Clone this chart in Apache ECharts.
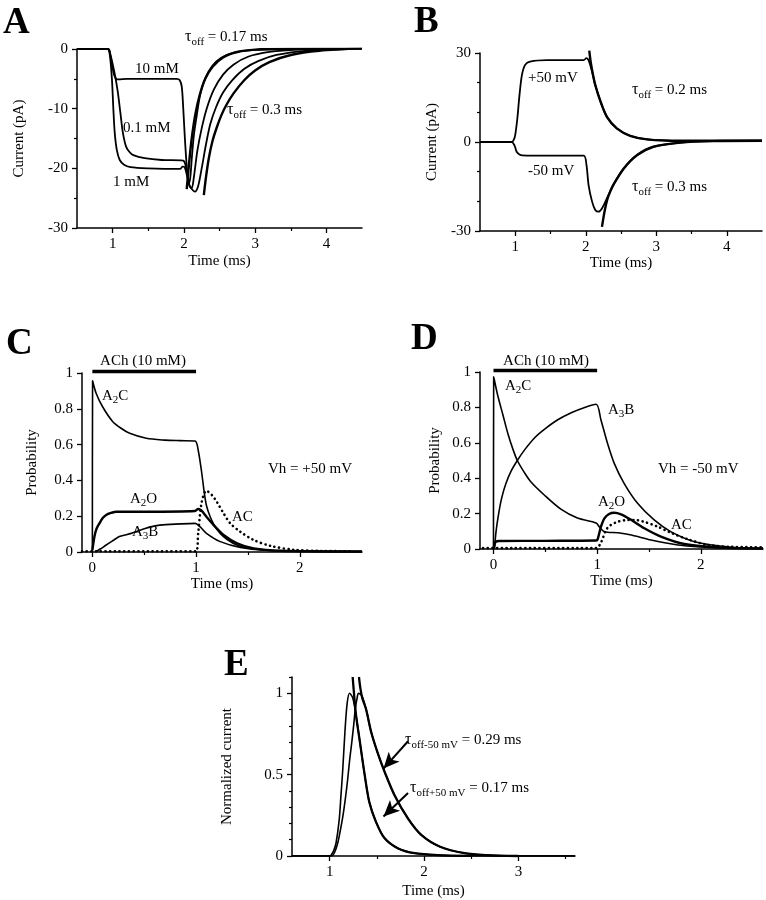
<!DOCTYPE html>
<html><head><meta charset="utf-8">
<script src="https://cdn.jsdelivr.net/npm/echarts@6/dist/echarts.min.js"></script>
<style>html,body{margin:0;padding:0;background:#fff}#c{width:766px;height:900px}</style>
</head><body><div id="c"></div>
<script>
// ---------- Panel A data (time ms, current pA) ----------
const A_10mM = [[0.5,0],[0.93,0],[0.96,-0.6],[0.98,-1.8],[1.0,-3.2],[1.02,-4.3],[1.05,-5.0],[1.08,-5.1],[1.2,-5.0],[1.5,-5.0],[1.9,-5.0],[1.94,-5.2],[1.97,-6.3],[1.99,-9.7],[2.01,-14.1],[2.03,-18],[2.05,-21],[2.07,-22.5],[2.09,-21.5],[2.11,-18.5],[2.14,-14.5],[2.18,-11.2],[2.23,-7.6],[2.3,-4.9],[2.4,-2.8],[2.52,-1.5],[2.7,-0.6],[2.95,-0.2],[3.3,0],[4.5,0.1]];
const A_01mM = [[0.5,0],[0.94,0],[0.97,-1],[1.0,-2.5],[1.03,-4.2],[1.05,-5.5],[1.075,-7.4],[1.11,-10.8],[1.145,-14.1],[1.19,-16.4],[1.24,-17.3],[1.29,-17.8],[1.45,-18.3],[1.69,-18.6],[1.99,-18.7],[2.02,-19.3],[2.05,-21],[2.08,-23],[2.11,-23.3],[2.14,-21.5],[2.19,-17],[2.25,-13.3],[2.32,-10],[2.42,-6.8],[2.55,-4.3],[2.7,-2.6],[2.9,-1.3],[3.2,-0.5],[3.6,-0.1],[4.5,0.1]];
const A_1mM = [[0.5,0],[0.93,0],[0.96,-1],[0.99,-5],[1.01,-10],[1.03,-14.1],[1.06,-17],[1.1,-18.6],[1.16,-19.4],[1.25,-19.8],[1.5,-20],[1.95,-20.1],[1.98,-19.7],[2.01,-19.8],[2.04,-21],[2.07,-22.6],[2.1,-23.3],[2.155,-23.9],[2.2,-23],[2.25,-20],[2.31,-16],[2.37,-12.6],[2.45,-9.8],[2.55,-7.3],[2.68,-5.2],[2.85,-3.3],[3.05,-2],[3.3,-1],[3.7,-0.3],[4.2,0],[4.5,0.1]];
const A_fit017 = [[2.04,-23.5],[2.07,-19.5],[2.11,-15],[2.16,-11],[2.22,-7.8],[2.3,-5],[2.4,-3],[2.55,-1.4],[2.75,-0.5],[3.0,-0.1],[3.5,0.05],[4.5,0.1]];
const A_fit03 = [[2.28,-24.5],[2.31,-21.5],[2.35,-18.3],[2.4,-15.5],[2.46,-13.2],[2.53,-11],[2.6,-9.3],[2.7,-7.4],[2.85,-5.2],[3.0,-3.6],[3.2,-2.2],[3.5,-1],[3.9,-0.3],[4.5,0.1]];
const A_xTicks = [1,2,3,4], A_xMinor = [1.5,2.5,3.5];
const A_yTicks = [-30,-20,-10,0], A_yMinor = [-25,-15,-5];

// ---------- Panel B data ----------
const B_p50 = [[0.5,0],[0.95,0],[0.98,0.8],[1.0,2.4],[1.03,8],[1.06,15.8],[1.095,22.6],[1.14,26],[1.21,27.1],[1.45,27.6],[1.97,27.6],[2.01,28.3],[2.04,27.6],[2.09,23.7],[2.135,19.2],[2.21,13.6],[2.3,8.5],[2.44,4.6],[2.63,2.1],[2.87,0.9],[3.34,0.4],[4.5,0.4]];
const B_p50fit = [[2.05,30.8],[2.07,27],[2.1,23],[2.135,19.2],[2.21,13.6],[2.3,8.5],[2.44,4.6],[2.63,2.1],[2.87,0.9],[3.34,0.4],[4.5,0.4]];
const B_m50 = [[0.5,0],[0.95,0],[0.99,-1.2],[1.02,-3.3],[1.06,-4.2],[1.1,-4.5],[1.5,-4.6],[1.97,-4.6],[2.01,-7.7],[2.04,-14.5],[2.09,-20.1],[2.135,-22.9],[2.18,-23.5],[2.23,-22.4],[2.3,-19],[2.39,-14.5],[2.54,-8.9],[2.73,-4.4],[2.96,-1.6],[3.34,-0.2],[3.8,0.3],[4.5,0.4]];
const B_m50fit = [[2.23,-28.6],[2.27,-23],[2.31,-19],[2.36,-16],[2.39,-14.5],[2.54,-8.9],[2.73,-4.4],[2.96,-1.6],[3.34,-0.2],[3.8,0.3],[4.5,0.4]];
const B_xTicks = [1,2,3,4], B_xMinor = [1.5,2.5,3.5];
const B_yTicks = [-30,0,30], B_yMinor = [-20,-10,10,20];

// ---------- Panel C data (probability) ----------
const C_A2C = [[0,0],[0.002,0.957],[0.036,0.887],[0.1,0.81],[0.197,0.728],[0.28,0.69],[0.36,0.663],[0.52,0.635],[0.7,0.625],[0.845,0.622],[0.99,0.62],[1.02,0.57],[1.055,0.44],[1.08,0.328],[1.1,0.26],[1.136,0.197],[1.18,0.145],[1.233,0.104],[1.3,0.07],[1.395,0.039],[1.5,0.022],[1.65,0.011],[1.9,0.005],[2.6,0.003]];
const C_A2O = [[0,0.01],[0.02,0.086],[0.04,0.13],[0.068,0.16],[0.1,0.19],[0.133,0.207],[0.18,0.218],[0.23,0.225],[0.52,0.225],[0.99,0.229],[1.02,0.24],[1.05,0.232],[1.1,0.197],[1.17,0.15],[1.265,0.095],[1.395,0.049],[1.556,0.02],[1.815,0.007],[2.6,0.003]];
const C_A3B = [[0.03,0],[0.08,0.018],[0.133,0.039],[0.2,0.064],[0.26,0.086],[0.375,0.104],[0.5,0.13],[0.65,0.15],[0.85,0.157],[0.99,0.16],[1.04,0.14],[1.1,0.104],[1.233,0.058],[1.427,0.026],[1.7,0.008],[2.6,0.002]];
const C_AC = [[-0.1,0.004],[1.0,0.004],[1.02,0.104],[1.055,0.28],[1.1,0.342],[1.15,0.32],[1.2,0.28],[1.265,0.216],[1.33,0.16],[1.427,0.113],[1.556,0.067],[1.72,0.034],[1.95,0.012],[2.2,0.006],[2.5,0.004]];
const ACh_bar = [[0,1.008],[1,1.008]];
const CD_xTicks = [0,1,2], CD_xMinor = [0.5,1.5];
const CD_yTicks = [0,0.2,0.4,0.6,0.8,1];

// ---------- Panel D data ----------
const D_A2C = [[0,0],[0.002,0.973],[0.04,0.87],[0.09,0.76],[0.14,0.65],[0.19,0.56],[0.23,0.5],[0.3,0.43],[0.36,0.38],[0.49,0.305],[0.65,0.225],[0.81,0.175],[0.99,0.147],[1.02,0.126],[1.07,0.098],[1.2,0.092],[1.33,0.079],[1.52,0.051],[1.78,0.023],[2.2,0.006],[2.6,0.003]];
const D_A3B = [[0.01,0],[0.025,0.1],[0.05,0.2],[0.08,0.29],[0.12,0.37],[0.17,0.44],[0.23,0.5],[0.3,0.56],[0.4,0.63],[0.5,0.68],[0.62,0.73],[0.75,0.77],[0.88,0.8],[0.99,0.818],[1.037,0.729],[1.1,0.597],[1.165,0.484],[1.26,0.371],[1.39,0.258],[1.55,0.164],[1.71,0.098],[1.94,0.041],[2.3,0.01],[2.6,0.004]];
const D_A2O = [[0,0],[0.01,0.025],[0.022,0.041],[0.05,0.045],[0.5,0.046],[0.99,0.048],[1.005,0.055],[1.037,0.126],[1.07,0.173],[1.115,0.198],[1.165,0.205],[1.23,0.196],[1.33,0.164],[1.455,0.117],[1.615,0.07],[1.84,0.028],[2.2,0.008],[2.6,0.003]];
const D_AC = [[-0.1,0.005],[0.99,0.005],[1.04,0.04],[1.085,0.107],[1.13,0.135],[1.2,0.154],[1.28,0.163],[1.36,0.164],[1.45,0.154],[1.585,0.126],[1.71,0.092],[1.875,0.055],[2.07,0.023],[2.3,0.012],[2.6,0.01]];

// ---------- Panel E data (normalized current) ----------
const E_p50 = [[0.6,0],[1.0,0],[1.014,0.005],[1.04,0.03],[1.067,0.08],[1.1,0.22],[1.12,0.38],[1.138,0.53],[1.163,0.78],[1.185,0.94],[1.21,1.0],[1.245,0.97],[1.28,0.86],[1.32,0.7],[1.37,0.5],[1.42,0.33],[1.49,0.21],[1.58,0.11],[1.72,0.048],[1.9,0.017],[2.15,0.005],[2.5,0.001],[3.6,0]];
const E_m50 = [[0.6,0],[1.02,0],[1.05,0.02],[1.085,0.08],[1.11,0.15],[1.138,0.24],[1.165,0.35],[1.19,0.47],[1.213,0.6],[1.234,0.7],[1.255,0.81],[1.27,0.9],[1.29,0.97],[1.305,1.0],[1.34,0.985],[1.386,0.9],[1.44,0.76],[1.51,0.63],[1.58,0.52],[1.69,0.37],[1.83,0.23],[1.97,0.13],[2.17,0.057],[2.43,0.017],[2.67,0.005],[3.0,0],[3.6,0]];
const E_fitP = [[1.243,1.1],[1.26,0.98],[1.28,0.86],[1.32,0.7],[1.37,0.5],[1.42,0.33],[1.49,0.21],[1.58,0.11],[1.72,0.048],[1.9,0.017],[2.15,0.005],[2.5,0.001]];
const E_fitM = [[1.31,1.1],[1.325,1.03],[1.345,0.97],[1.386,0.9],[1.44,0.76],[1.51,0.63],[1.58,0.52],[1.69,0.37],[1.83,0.23],[1.97,0.13],[2.17,0.057],[2.43,0.017],[2.67,0.005],[3.0,0]];
const E_arrows = [[[1.83,0.705],[1.57,0.537]],[[1.83,0.387],[1.57,0.243]]];
const E_xTicks = [1,2,3], E_xMinor = [1.5,2.5,3.5];
const E_yTicks = [0,0.5,1], E_yMinor = [0.1,0.2,0.3,0.4,0.6,0.7,0.8,0.9,1.1];

// ---------- rendering ----------
const FONT = '"Liberation Serif", "Times New Roman", serif';
const FS = 15;
const grids = [
  {left:77, top:49, width:285, height:179},
  {left:480, top:53, width:282, height:178},
  {left:82, top:373, width:280, height:179},
  {left:480, top:372, width:283, height:177},
  {left:292, top:677, width:283, height:179}
];
const xAxes = [], yAxes = [];
function axes(g, xmin, xmax, xt, xm, xname, xgap, ymin, ymax, yt, ym, yname, ygap) {
  const line = {show:true, onZero:false, lineStyle:{color:'#000', width:1.5}};
  const lbl = {color:'#000', fontFamily:FONT, fontSize:FS};
  xAxes.push({type:'value', gridIndex:g, min:xmin, max:xmax, position:'bottom',
    axisLine:line, axisTick:{show:true, customValues:xt, length:5, lineStyle:{color:'#000', width:1.3}},
    axisLabel:Object.assign({customValues:xt, margin:9}, lbl), splitLine:{show:false},
    name:xname, nameLocation:'middle', nameGap:xgap, nameTextStyle:lbl});
  xAxes.push({type:'value', gridIndex:g, min:xmin, max:xmax, position:'bottom',
    axisLine:{show:false, onZero:false}, axisTick:{show:true, customValues:xm, length:3, lineStyle:{color:'#000', width:1.2}},
    axisLabel:{show:false}, splitLine:{show:false}});
  yAxes.push({type:'value', gridIndex:g, min:ymin, max:ymax, position:'left',
    axisLine:line, axisTick:{show:true, customValues:yt, length:5, lineStyle:{color:'#000', width:1.3}},
    axisLabel:Object.assign({customValues:yt, margin:9}, lbl), splitLine:{show:false},
    name:yname, nameLocation:'middle', nameGap:ygap, nameTextStyle:lbl});
  yAxes.push({type:'value', gridIndex:g, min:ymin, max:ymax, position:'left',
    axisLine:{show:false, onZero:false}, axisTick:{show:true, customValues:ym, length:3, lineStyle:{color:'#000', width:1.2}},
    axisLabel:{show:false}, splitLine:{show:false}});
}
axes(0, 0.5, 4.5, A_xTicks, A_xMinor, 'Time (ms)', 26, -30, 0, A_yTicks, A_yMinor, 'Current (pA)', 50);
axes(1, 0.5, 4.5, B_xTicks, B_xMinor, 'Time (ms)', 25, -30, 30, B_yTicks, B_yMinor, 'Current (pA)', 40);
axes(2, -0.1, 2.6, CD_xTicks, CD_xMinor, 'Time (ms)', 24, 0, 1, CD_yTicks, [], 'Probability', 42);
axes(3, -0.13, 2.6, CD_xTicks, CD_xMinor, 'Time (ms)', 24, 0, 1, CD_yTicks, [], 'Probability', 37);
axes(4, 0.6, 3.6, E_xTicks, E_xMinor, 'Time (ms)', 28, 0, 1.1, E_yTicks, E_yMinor, 'Normalized current', 57);

const series = [];
function ln(g, data, width, extra) {
  series.push(Object.assign({type:'line', xAxisIndex:2*g, yAxisIndex:2*g, data:data, showSymbol:false, symbol:'none',
    smooth:0.3, lineStyle:{color:'#000', width:width}, silent:true, z:3}, extra||{}));
}
function dots(g, data) {
  ln(g, data, 2.6, {lineStyle:{color:'#000', width:2.6, type:[0.1,4.6], cap:'round'}});
}
ln(0, A_10mM, 1.8); ln(0, A_01mM, 1.8); ln(0, A_1mM, 1.8); ln(0, A_fit017, 2.4); ln(0, A_fit03, 2.4);
ln(1, B_p50, 1.8); ln(1, B_m50, 1.8); ln(1, B_p50fit, 2.4, {clip:false}); ln(1, B_m50fit, 2.4);
ln(2, C_A2C, 1.6); ln(2, C_A2O, 2.4); ln(2, C_A3B, 1.6); dots(2, C_AC); ln(2, ACh_bar, 3.5, {clip:false, smooth:false});
ln(3, D_A2C, 1.6); ln(3, D_A3B, 1.6); ln(3, D_A2O, 2.4); dots(3, D_AC); ln(3, ACh_bar, 3.5, {clip:false, smooth:false});
ln(4, E_p50, 1.6); ln(4, E_m50, 1.6); ln(4, E_fitP, 2.3, {clip:false}); ln(4, E_fitM, 2.3, {clip:false,
  markLine:{silent:true, animation:false, symbol:['none','arrow'], symbolSize:[11,16], precision:4,
    lineStyle:{color:'#000', width:2, type:'solid'}, label:{show:false},
    data:E_arrows.map(a => [{coord:a[0]},{coord:a[1]}])}});

// ---------- text annotations ----------
const cv = document.createElement('canvas').getContext('2d');
function tw(t, s, wgt) { cv.font = (wgt||'normal') + ' ' + s + 'px "Liberation Serif"'; return cv.measureText(t).width; }
const graphics = [];
function tx(parts, x, cy, align) {
  let total = 0; parts.forEach(p => total += tw(p[0], p[1], p[3]));
  let cx = align === 'center' ? x - total/2 : x;
  parts.forEach(p => {
    graphics.push({type:'text', x:cx, y:cy + (p[2]||0), silent:true,
      style:{text:p[0], fill:'#000', fontSize:p[1], fontFamily:FONT, fontWeight:p[3]||'normal', align:'left', verticalAlign:'middle'}});
    cx += tw(p[0], p[1], p[3]);
  });
}
const M = 15, S = 11;
// panel letters
tx([['A',37,0,'bold']], 3, 23); tx([['B',37,0,'bold']], 414, 22); tx([['C',37,0,'bold']], 6, 344); tx([['D',37,0,'bold']], 411, 339); tx([['E',37,0,'bold']], 224, 665);
// A
tx([['10 mM',M]], 135, 69); tx([['0.1 mM',M]], 123, 128); tx([['1 mM',M]], 113, 182);
tx([['τ',M+1],['off',S,5],[' = 0.17 ms',M]], 185, 37);
tx([['τ',M+1],['off',S,5],[' = 0.3 ms',M]], 227, 110);
// B
tx([['+50 mV',M]], 528, 78); tx([['-50 mV',M]], 528, 171);
tx([['τ',M+1],['off',S,5],[' = 0.2 ms',M]], 632, 90);
tx([['τ',M+1],['off',S,5],[' = 0.3 ms',M]], 632, 187);
// C
tx([['ACh (10 mM)',M]], 143, 361, 'center');
tx([['A',M],['2',S,4],['C',M]], 102, 396);
tx([['A',M],['2',S,4],['O',M]], 130, 499);
tx([['A',M],['3',S,4],['B',M]], 132, 532);
tx([['AC',M]], 232, 517);
tx([['Vh = +50 mV',M]], 268, 469);
// D
tx([['ACh (10 mM)',M]], 546, 361, 'center');
tx([['A',M],['2',S,4],['C',M]], 505, 386);
tx([['A',M],['3',S,4],['B',M]], 608, 410);
tx([['A',M],['2',S,4],['O',M]], 598, 502);
tx([['AC',M]], 671, 525);
tx([['Vh = -50 mV',M]], 658, 469);
// E
tx([['τ',M+1],['off-50 mV',S,5],[' = 0.29 ms',M]], 405, 740);
tx([['τ',M+1],['off+50 mV',S,5],[' = 0.17 ms',M]], 410, 788);

const chart = echarts.init(document.getElementById('c'), null, {renderer:'canvas'});
chart.setOption({
  animation:false, backgroundColor:'#fff',
  grid:grids, xAxis:xAxes, yAxis:yAxes, series:series, graphic:graphics
});
</script></body></html>
